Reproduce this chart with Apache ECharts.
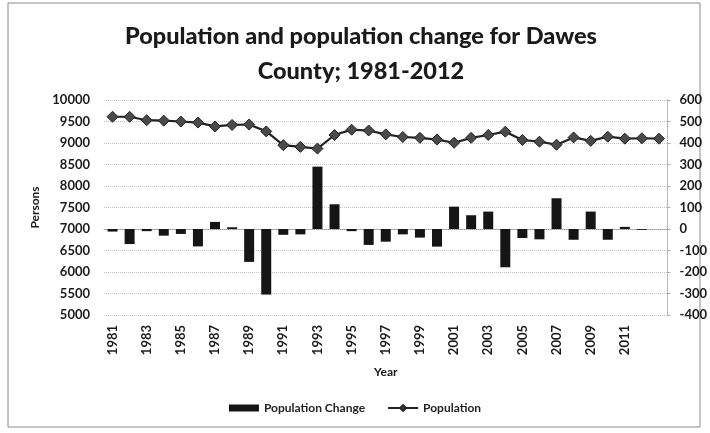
<!DOCTYPE html>
<html>
<head>
<meta charset="utf-8">
<script src="https://cdn.jsdelivr.net/npm/echarts@6/dist/echarts.min.js"></script>
<style>
  html, body { margin: 0; padding: 0; background: #fff; }
  #chart { width: 710px; height: 433px; }
</style>
</head>
<body>
<div id="chart"></div>
<script>
// Year categories (the final slot carries the last population point, unlabelled)
const years = ['1981','1982','1983','1984','1985','1986','1987','1988','1989','1990',
  '1991','1992','1993','1994','1995','1996','1997','1998','1999','2000',
  '2001','2002','2003','2004','2005','2006','2007','2008','2009','2010',
  '2011','2012',''];

// Annual population change (persons), right axis
const populationChange = [-12, -70, -10, -31, -23, -81, 33, 8, -153, -305,
  -27, -25, 290, 115, -10, -74, -59, -25, -40, -82,
  104, 64, 81, -178, -42, -48, 143, -50, 81, -50,
  10, -4, null];

// Total population (persons), left axis
const population = [9610, 9610, 9530, 9520, 9500, 9475, 9385, 9420, 9430, 9270,
  8950, 8910, 8870, 9186, 9310, 9290, 9200, 9140, 9120, 9080,
  9005, 9120, 9186, 9263, 9070, 9031, 8960, 9130, 9050, 9147,
  9100, 9110, 9100];

const leftTicks = { min: 5000, max: 10000, interval: 500 };
const rightTicks = { min: -400, max: 600, interval: 100 };

const FONT = 'Lato, "Open Sans", sans-serif';
const chart = echarts.init(document.getElementById('chart'), null, { renderer: 'canvas' });

chart.setOption({
  backgroundColor: '#ffffff',
  animation: false,
  textStyle: { fontFamily: FONT },
  title: {
    text: 'Population and population change for Dawes\nCounty; 1981-2012',
    left: 356, top: 14, textAlign: 'center',
    textStyle: { fontFamily: FONT, fontWeight: 900, fontSize: 23.5, lineHeight: 35, color: '#1a1a1a' }
  },
  graphic: [{
    type: 'rect', shape: { x: 8, y: 3, width: 692, height: 424 },
    style: { fill: 'none', stroke: '#8a8a8a', lineWidth: 1 }, silent: true, z: -1
  }],
  legend: {
    bottom: 14, left: 'center', itemGap: 22, itemWidth: 30, itemHeight: 7,
    textStyle: { fontFamily: FONT, fontWeight: 'bold', fontSize: 12, color: '#222' },
    data: [
      { name: 'Population Change', icon: 'rect' },
      { name: 'Population' }
    ]
  },
  grid: { left: 104, right: 42, top: 100, bottom: 118 },
  xAxis: {
    type: 'category', data: years, boundaryGap: true,
    name: 'Year', nameLocation: 'middle', nameGap: 51,
    nameTextStyle: { fontFamily: FONT, fontWeight: 'bold', fontSize: 12, color: '#1a1a1a' },
    axisLine: { show: true, lineStyle: { color: '#999', type: 'dotted' } },
    axisTick: { show: false },
    axisLabel: {
      interval: 1, rotate: 90, margin: 10,
      fontFamily: FONT, fontWeight: 'bold', fontSize: 13, color: '#1a1a1a'
    }
  },
  yAxis: [{
    type: 'value', position: 'left',
    min: leftTicks.min, max: leftTicks.max, interval: leftTicks.interval,
    name: 'Persons', nameLocation: 'middle', nameGap: 60, nameRotate: 90,
    nameTextStyle: { fontFamily: FONT, fontWeight: 'bold', fontSize: 12, color: '#1a1a1a' },
    axisLine: { show: false }, axisTick: { show: false },
    axisLabel: {
      margin: 14, fontFamily: FONT, fontWeight: 'bold', fontSize: 13, color: '#1a1a1a',
      formatter: v => String(v)
    },
    splitLine: { show: true, lineStyle: { color: '#c4c4c4', type: 'dotted', width: 1 } }
  }, {
    type: 'value', position: 'right',
    min: rightTicks.min, max: rightTicks.max, interval: rightTicks.interval,
    axisLine: { show: true, lineStyle: { color: '#aaa', type: 'dotted' } },
    axisTick: { show: true, length: 3, inside: false, lineStyle: { color: '#aaa' } },
    axisLabel: {
      margin: 12, fontFamily: FONT, fontWeight: 'bold', fontSize: 13, color: '#1a1a1a',
      formatter: v => String(v)
    },
    splitLine: { show: false }
  }],
  series: [{
    name: 'Population Change', type: 'bar', yAxisIndex: 1,
    data: populationChange, barWidth: 10,
    itemStyle: { color: '#151515' }, z: 2
  }, {
    name: 'Population', type: 'line', yAxisIndex: 0,
    data: population,
    symbol: 'diamond', symbolSize: 11,
    lineStyle: { color: '#222', width: 2.2 },
    itemStyle: { color: '#4a4a4a', borderColor: '#222', borderWidth: 1 }, z: 3
  }]
});
</script>
</body>
</html>
